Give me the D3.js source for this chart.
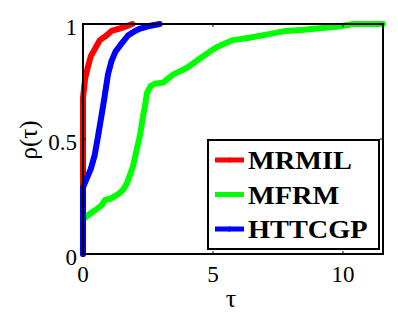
<!DOCTYPE html>
<html><head><meta charset="utf-8">
<script src="https://cdn.jsdelivr.net/npm/d3@7"></script>
<style>body{margin:0;background:#fff}svg{display:block}</style>
</head><body>
<script>
const seriesNames = ["MRMIL", "MFRM", "HTTCGP"];
const seriesColors = ["#ff0000", "#00ff00", "#0000ff"];
const mrmilTau = [0, 0, 0.08, 0.18, 0.3, 0.45, 0.65, 0.9, 1.1, 1.4, 1.65, 1.9];
const mrmilRho = [0, 0.68, 0.76, 0.81, 0.86, 0.89, 0.93, 0.95, 0.97, 0.98, 0.99, 1.0];
const mfrmTau = [0, 0.2, 0.46, 0.7, 0.85, 1.05, 1.35, 1.55, 1.7, 1.92, 2.08, 2.2, 2.31, 2.38, 2.46, 2.6, 2.75, 3.08, 3.46, 4.0, 4.5, 4.88, 5.15, 5.77, 6.4, 7.1, 7.8, 8.5, 9.0, 9.9, 10.4, 11.54];
const mfrmRho = [0.15, 0.17, 0.19, 0.21, 0.235, 0.24, 0.26, 0.28, 0.31, 0.38, 0.46, 0.52, 0.60, 0.64, 0.70, 0.73, 0.74, 0.745, 0.78, 0.81, 0.85, 0.88, 0.90, 0.93, 0.94, 0.955, 0.97, 0.975, 0.98, 0.99, 1.0, 1.0];
const httcgpTau = [0, 0, 0.15, 0.3, 0.45, 0.56, 0.68, 0.81, 0.96, 1.1, 1.25, 1.45, 1.73, 2.0, 2.2, 2.5, 2.95];
const httcgpRho = [0, 0.29, 0.33, 0.37, 0.43, 0.50, 0.58, 0.67, 0.78, 0.84, 0.88, 0.91, 0.95, 0.97, 0.98, 0.99, 1.0];
const xTicks = [0, 5, 10];
const yTicks = [0, 0.5, 1];
const yTickLabels = ["0", "0.5", "1"];
const xMax = 11.54;

const FONT = "Liberation Serif, serif";
const W = 398, H = 316;
const svg = d3.select("body").append("svg").attr("width", W).attr("height", H)
  .attr("font-family", FONT);
const x = d3.scaleLinear().domain([0, xMax]).range([83, 383]);
const y = d3.scaleLinear().domain([0, 1]).range([254, 24]);

const series = [
  {tau: mrmilTau, rho: mrmilRho},
  {tau: mfrmTau, rho: mfrmRho},
  {tau: httcgpTau, rho: httcgpRho}
];
const line = d3.line().x(d => x(d[0])).y(d => y(d[1]));
series.forEach((s, i) => {
  const pts = s.tau.map((t, j) => [t, s.rho[j]]);
  svg.append("path").attr("d", line(pts)).attr("fill", "none")
    .attr("stroke", seriesColors[i]).attr("stroke-width", 6)
    .attr("stroke-linejoin", "round").attr("stroke-linecap", "round");
});

const g = svg.append("g");
g.append("rect").attr("x", x(0)).attr("y", y(1)).attr("width", x(xMax) - x(0)).attr("height", y(0) - y(1))
  .attr("fill", "none").attr("stroke", "#000").attr("stroke-width", 2);
xTicks.forEach(t => {
  g.append("line").attr("x1", x(t)).attr("x2", x(t)).attr("y1", y(0)).attr("y2", y(0) - 3).attr("stroke", "#000");
  g.append("line").attr("x1", x(t)).attr("x2", x(t)).attr("y1", y(1)).attr("y2", y(1) + 3).attr("stroke", "#000");
  g.append("text").attr("x", x(t)).attr("y", 282).attr("text-anchor", "middle")
    .attr("font-size", 23).text(t);
});
yTicks.forEach((t, i) => {
  g.append("line").attr("x1", x(0)).attr("x2", x(0) + 3).attr("y1", y(t)).attr("y2", y(t)).attr("stroke", "#000");
  g.append("line").attr("x1", x(xMax)).attr("x2", x(xMax) - 3).attr("y1", y(t)).attr("y2", y(t)).attr("stroke", "#000");
  g.append("text").attr("x", 77).attr("y", y(t) + 11).attr("text-anchor", "end")
    .attr("font-size", 23).text(yTickLabels[i]);
});
svg.append("text").attr("x", 231).attr("y", 307).attr("text-anchor", "middle")
  .attr("font-size", 26).text("τ");
svg.append("text").attr("transform", "translate(37,140) rotate(-90)").attr("text-anchor", "middle")
  .attr("font-size", 25).text("ρ(τ)");

const lg = svg.append("g");
lg.append("rect").attr("x", 208).attr("y", 140).attr("width", 171).attr("height", 109)
  .attr("fill", "#fff").attr("stroke", "#000").attr("stroke-width", 2);
seriesNames.forEach((n, i) => {
  const cy = 160 + i * 34.5;
  lg.append("line").attr("x1", 215).attr("x2", 244).attr("y1", cy).attr("y2", cy)
    .attr("stroke", seriesColors[i]).attr("stroke-width", 5);
  lg.append("circle").attr("cx", 229.5).attr("cy", cy).attr("r", 2.5).attr("fill", seriesColors[i]);
  lg.append("text").attr("transform", `translate(248,${cy + 9}) scale(1.09,1)`)
    .attr("font-weight", "bold").attr("font-size", 26).text(n);
});
</script>
</body></html>
